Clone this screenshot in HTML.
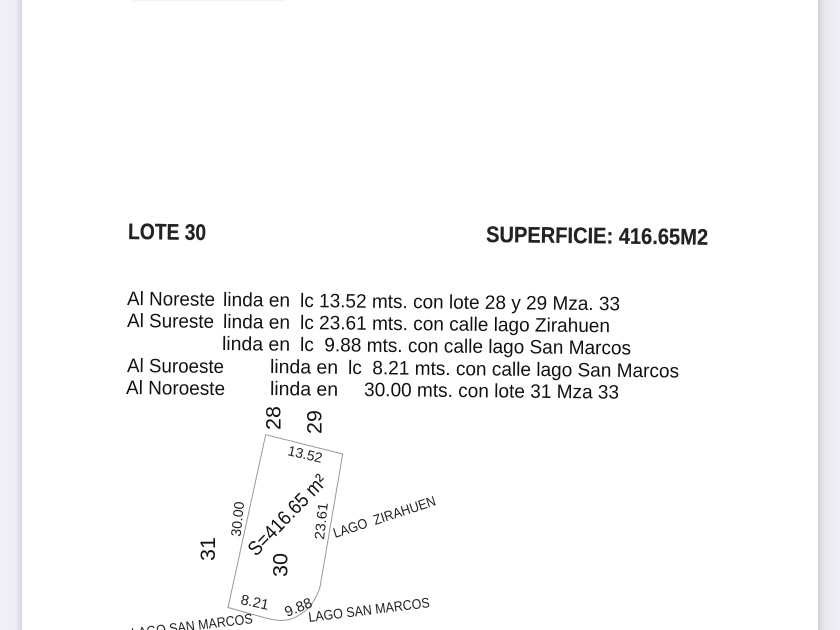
<!DOCTYPE html>
<html lang="es">
<head>
<meta charset="utf-8">
<title>Lote 30</title>
<style>
html,body{margin:0;padding:0;background:#fff}
body{width:840px;height:630px;overflow:hidden;position:relative}
svg{display:block;position:absolute;left:0;top:0}
text{font-family:"Liberation Sans",sans-serif;fill:#111}
.b{font-size:19.5px}
.h{font-weight:bold;font-size:22.5px;fill:#222;stroke:#222;stroke-width:.2}
.s{fill:#222}
</style>
</head>
<body>
<svg width="840" height="630" viewBox="0 0 840 630" xmlns="http://www.w3.org/2000/svg">
<defs>
<linearGradient id="l" x1="0" x2="1" y1="0" y2="0">
<stop offset="0" stop-color="#f1f0fa"/><stop offset=".7" stop-color="#eeedf5"/><stop offset="1" stop-color="#d4d4da"/>
</linearGradient>
<linearGradient id="r" x1="0" x2="1" y1="0" y2="0">
<stop offset="0" stop-color="#d0d0d6"/><stop offset=".3" stop-color="#e8e8ee"/><stop offset="1" stop-color="#f1f0fa"/>
</linearGradient>
</defs>
<rect width="840" height="630" fill="#fff"/>
<rect x="0" y="0" width="22" height="630" fill="url(#l)"/>
<rect x="818" y="0" width="22" height="630" fill="url(#r)"/>
<rect x="133" y="0" width="152" height="1" fill="#f2f2f2"/>

<text class="h" x="128" y="239" textLength="78" lengthAdjust="spacingAndGlyphs" transform="rotate(.7 128 239)">LOTE 30</text>
<text class="h" x="486" y="242" textLength="222" lengthAdjust="spacingAndGlyphs" transform="rotate(.7 486 242)">SUPERFICIE: 416.65M2</text>

<text class="b" x="127" y="305" textLength="88" lengthAdjust="spacingAndGlyphs" transform="rotate(.6 127 305)">Al Noreste</text>
<text class="b" x="223" y="306" textLength="67" lengthAdjust="spacingAndGlyphs" transform="rotate(.6 223 306)">linda en</text>
<text class="b" x="300" y="307" textLength="320" lengthAdjust="spacingAndGlyphs" transform="rotate(.6 300 307)">lc 13.52 mts. con lote 28 y 29 Mza. 33</text>

<text class="b" x="127" y="327" textLength="87" lengthAdjust="spacingAndGlyphs" transform="rotate(.6 127 327)">Al Sureste</text>
<text class="b" x="223" y="328" textLength="67" lengthAdjust="spacingAndGlyphs" transform="rotate(.6 223 328)">linda en</text>
<text class="b" x="300" y="329" textLength="310" lengthAdjust="spacingAndGlyphs" transform="rotate(.6 300 329)">lc 23.61 mts. con calle lago Zirahuen</text>

<text class="b" x="222" y="350" textLength="68" lengthAdjust="spacingAndGlyphs" transform="rotate(.6 222 350)">linda en</text>
<text class="b" x="300" y="351" textLength="331" lengthAdjust="spacingAndGlyphs" transform="rotate(.6 300 351)" xml:space="preserve">lc  9.88 mts. con calle lago San Marcos</text>

<text class="b" x="127" y="372" textLength="97" lengthAdjust="spacingAndGlyphs" transform="rotate(.6 127 372)">Al Suroeste</text>
<text class="b" x="270" y="373" textLength="68" lengthAdjust="spacingAndGlyphs" transform="rotate(.6 270 373)">linda en</text>
<text class="b" x="348" y="374" textLength="331" lengthAdjust="spacingAndGlyphs" transform="rotate(.6 348 374)" xml:space="preserve">lc  8.21 mts. con calle lago San Marcos</text>

<text class="b" x="126" y="394" textLength="99" lengthAdjust="spacingAndGlyphs" transform="rotate(.6 126 394)">Al Noroeste</text>
<text class="b" x="270" y="395" textLength="68" lengthAdjust="spacingAndGlyphs" transform="rotate(.6 270 395)">linda en</text>
<text class="b" x="364" y="396" textLength="255" lengthAdjust="spacingAndGlyphs" transform="rotate(.6 364 396)">30.00 mts. con lote 31 Mza 33</text>

<path d="M265.7 434.7 L342.7 454 L320 587 Q314 606 301 614 Q291 621 280 620.5 Q270 619.5 262 617 L228 607.5 Z" fill="none" stroke="#999" stroke-width="1"/>

<text font-size="21.5" transform="translate(280.5 430) rotate(-90)">28</text>
<text font-size="21.5" transform="translate(321.5 434) rotate(-90)">29</text>
<text font-size="21.5" transform="translate(215 561) rotate(-90)">31</text>
<text font-size="21.5" transform="translate(287.5 577) rotate(-90)">30</text>

<text class="s" font-size="14" transform="translate(287 455) rotate(13)" textLength="35" lengthAdjust="spacingAndGlyphs">13.52</text>
<text class="s" font-size="14" transform="translate(240.5 537) rotate(-84)" textLength="35" lengthAdjust="spacingAndGlyphs">30.00</text>
<text class="s" font-size="14" transform="translate(324 540) rotate(-84)" textLength="37" lengthAdjust="spacingAndGlyphs">23.61</text>
<text class="s" font-size="14.5" transform="translate(240 604) rotate(12)">8.21</text>
<text class="s" font-size="14.5" transform="translate(287 617) rotate(-22)">9.88</text>

<text font-size="20" transform="translate(256 557) rotate(-46)" textLength="104" lengthAdjust="spacingAndGlyphs">S=416.65 m²</text>

<text class="s" font-size="14" transform="translate(335 538) rotate(-18)" textLength="107" lengthAdjust="spacingAndGlyphs" xml:space="preserve">LAGO  ZIRAHUEN</text>
<text class="s" font-size="14" transform="translate(309 622) rotate(-7)" textLength="122" lengthAdjust="spacingAndGlyphs">LAGO SAN MARCOS</text>
<text class="s" font-size="14" transform="translate(132 638) rotate(-7)" textLength="122" lengthAdjust="spacingAndGlyphs">LAGO SAN MARCOS</text>
</svg>
</body>
</html>
